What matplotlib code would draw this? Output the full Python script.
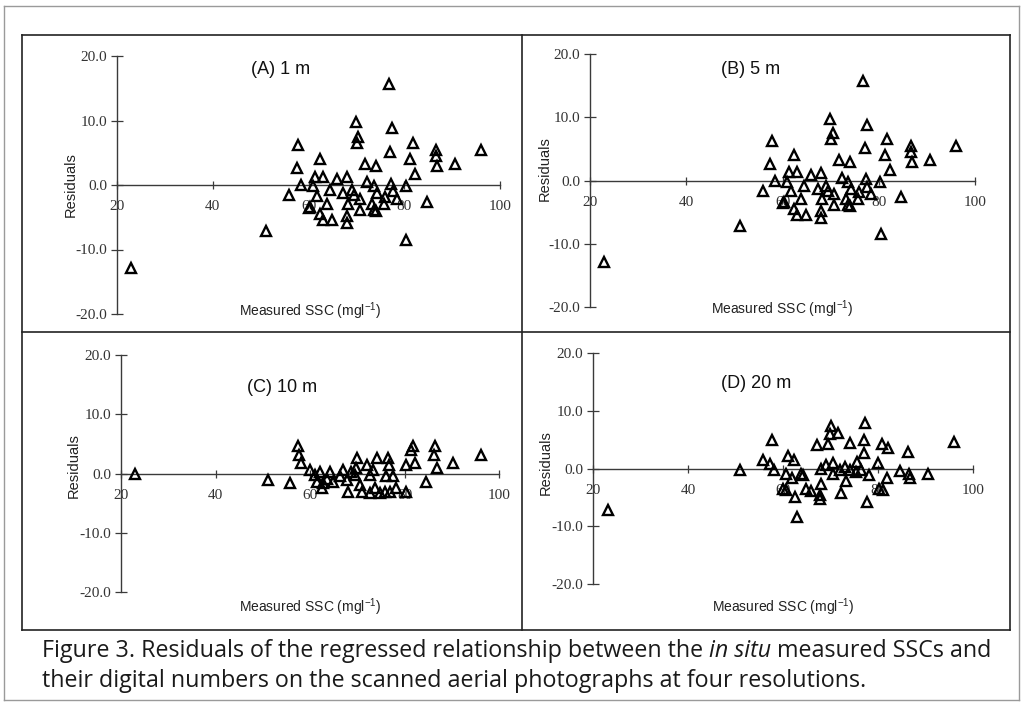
import matplotlib
matplotlib.use("Agg")
import matplotlib.pyplot as plt
from matplotlib.lines import Line2D

# ---------------- data ----------------
x_ticks = [20, 40, 60, 80, 100]
x_ticklabels = ["20", "40", "60", "80", "100"]
y_ticks = [20, 10, 0, -10, -20]
y_ticklabels = ["20.0", "10.0", "0.0", "-10.0", "-20.0"]

panel_titles = ["(A) 1 m", "(B) 5 m", "(C) 10 m", "(D) 20 m"]

ssc_A = [76.8, 69.9, 77.5, 70.4, 70.1, 57.8, 81.8, 86.7, 96.1, 77.1,
         62.4, 81.2, 86.6, 86.9, 90.6, 71.8, 74.0, 57.5, 82.3, 61.4,
         63.1, 65.9, 68.1, 58.4, 60.9, 72.3, 73.7, 77.3, 80.3, 56.0,
         64.4, 69.1, 61.7, 67.3, 69.4, 70.8, 74.3, 77.6, 78.4, 75.9,
         84.7, 60.3, 63.8, 68.3, 70.8, 73.2, 73.6, 75.7, 74.1, 62.4,
         63.1, 64.9, 68.0, 68.0, 51.1, 80.4, 60.1, 22.9]
res_A = [15.7, 9.7, 8.8, 7.5, 6.5, 6.2, 6.5, 5.4, 5.5, 5.1,
         4.1, 4.1, 4.5, 2.9, 3.3, 3.2, 2.9, 2.6, 1.7, 1.3,
         1.3, 0.9, 1.2, 0.0, -0.2, 0.4, -0.2, 0.2, -0.2, -1.6,
         -0.8, -0.8, -1.7, -1.3, -1.6, -2.1, -1.3, -1.0, -2.1, -1.8,
         -2.6, -3.4, -3.0, -3.0, -3.9, -3.0, -3.9, -3.0, -4.0, -4.5,
         -5.5, -5.5, -4.8, -5.9, -7.2, -8.5, -3.5, -12.9]

ssc_B = [76.8, 69.9, 77.5, 70.4, 70.1, 57.8, 81.8, 86.7, 96.1, 77.1,
         62.4, 81.2, 86.6, 86.9, 90.6, 71.8, 74.0, 57.5, 82.3, 61.4,
         63.1, 65.9, 68.1, 58.4, 60.9, 72.3, 73.7, 77.3, 80.3, 56.0,
         64.4, 69.1, 61.7, 67.3, 69.4, 70.8, 74.3, 77.6, 78.4, 75.9,
         84.7, 60.3, 63.8, 68.3, 70.8, 73.2, 73.6, 75.7, 74.1, 62.4,
         63.1, 64.9, 68.0, 68.0, 51.1, 80.4, 60.1, 22.9]
res_B = [15.7, 9.7, 8.8, 7.5, 6.5, 6.2, 6.5, 5.4, 5.5, 5.1,
         4.1, 4.1, 4.5, 2.9, 3.3, 3.2, 2.9, 2.6, 1.7, 1.3,
         1.3, 0.9, 1.2, 0.0, -0.2, 0.4, -0.2, 0.2, -0.2, -1.6,
         -0.8, -0.8, -1.7, -1.3, -1.6, -2.1, -1.3, -1.0, -2.1, -1.8,
         -2.6, -3.4, -3.0, -3.0, -3.9, -3.0, -3.9, -3.0, -4.0, -4.5,
         -5.5, -5.5, -4.8, -5.9, -7.2, -8.5, -3.5, -12.9]

ssc_C = [57.5, 57.7, 58.0, 55.8, 60.0, 61.1, 62.1, 64.2, 61.4, 62.8,
         62.5, 64.9, 67.0, 67.8, 68.1, 69.9, 69.7, 69.5, 70.6, 70.9,
         72.1, 72.7, 74.1, 73.3, 73.8, 72.7, 74.8, 76.6, 76.8, 76.1,
         77.6, 75.9, 76.9, 78.3, 80.3, 80.3, 82.2, 81.9, 81.3, 86.5,
         86.3, 86.8, 84.5, 90.3, 96.1, 66.4, 68.6, 63.5, 51.2, 23.0]
res_C = [4.6, 3.2, 1.7, -1.6, 0.6, -0.2, 0.3, 0.3, -1.4, -1.6,
         -2.5, -1.4, 0.6, -1.1, -3.1, 2.6, 0.9, -0.2, -1.9, -3.1,
         1.5, -0.2, 2.6, 0.6, -2.5, -3.3, -3.3, 2.6, 1.5, -0.5,
         -0.5, -3.1, -3.1, -2.5, -3.1, 1.5, 1.7, 4.7, 4.0, 4.6,
         3.2, 0.9, -1.4, 1.7, 3.2, -0.5, 0.3, -0.9, -1.1, -0.1]

ssc_D = [50.9, 55.7, 57.6, 57.2, 58.0, 61.1, 62.3, 60.7, 61.8, 63.7,
         60.0, 60.7, 62.5, 63.0, 64.8, 65.8, 67.2, 68.1, 68.1, 67.7,
         67.7, 69.5, 69.8, 70.2, 71.6, 70.5, 70.5, 69.0, 72.3, 74.0,
         73.2, 73.0, 75.5, 75.3, 77.0, 77.3, 77.0, 76.5, 78.1, 77.7,
         80.0, 80.9, 82.1, 81.8, 80.2, 81.1, 84.6, 86.5, 86.7, 86.3,
         90.5, 96.1, 71.9, 74.0, 64.2, 23.2]
res_D = [-0.2, 1.4, 5.0, 0.7, -0.3, 2.1, 1.4, -0.9, -1.7, -0.9,
         -3.5, -3.8, -5.0, -8.4, -3.5, -3.9, 4.0, 0.0, -2.6, -4.6,
         -5.2, 4.3, 6.0, 7.3, 6.1, 0.9, -0.9, 0.6, -4.2, 4.4,
         -2.1, 0.2, 1.2, -0.6, 4.9, 7.8, 2.6, -0.3, -1.2, -5.8,
         1.0, 4.3, 3.5, -1.7, -3.5, -3.8, -0.4, -0.9, -1.7, 2.8,
         -1.0, 4.6, -0.3, -0.3, -1.1, -7.1]

caption_parts_1 = [("Figure 3. Residuals of the regressed relationship between the ", "normal"),
                   ("in situ", "italic"),
                   (" measured SSCs and", "normal")]
caption_line_2 = "their digital numbers on the scanned aerial photographs at four resolutions."

# ---------------- layout ----------------
W, H = 1023, 706
fig = plt.figure(figsize=(W / 100, H / 100), dpi=100)
fig.patch.set_facecolor("white")

SERIF = ["Liberation Serif", "DejaVu Serif"]
SANS = ["Liberation Sans", "DejaVu Sans"]
plt.rcParams["mathtext.fontset"] = "custom"
plt.rcParams["mathtext.rm"] = "Liberation Sans"
plt.rcParams["mathtext.it"] = "Liberation Sans:italic"


def fx(x):
    return x / W


def fy(y):
    return 1 - y / H


def px_rect(x0, x1, ytop, ybot):
    return [x0 / W, 1 - ybot / H, (x1 - x0) / W, (ybot - ytop) / H]


AX_COLOR = "#3a3a3a"

panels = [
    dict(x=ssc_A, y=res_A, rect=(117, 500, 56, 314), title=(251, 70),
         ylab=(71, 185), xlab=(310, 311)),
    dict(x=ssc_B, y=res_B, rect=(590, 975, 54, 307), title=(721, 70),
         ylab=(545, 169), xlab=(782, 309)),
    dict(x=ssc_C, y=res_C, rect=(121, 499, 355, 592), title=(247, 387),
         ylab=(74, 466), xlab=(310, 607)),
    dict(x=ssc_D, y=res_D, rect=(593, 973, 353, 584), title=(721, 383),
         ylab=(546, 463), xlab=(783, 607)),
]

for p, title in zip(panels, panel_titles):
    ax = fig.add_axes(px_rect(*p["rect"]))
    ax.set_xlim(20, 100)
    ax.set_ylim(-20, 20)
    ax.patch.set_alpha(0)
    for s in ["top", "right"]:
        ax.spines[s].set_visible(False)
    ax.spines["bottom"].set_position(("data", 0))
    ax.spines["left"].set_position(("data", 20))
    for s in ["bottom", "left"]:
        ax.spines[s].set_color(AX_COLOR)
        ax.spines[s].set_linewidth(1.0)
    ax.set_xticks(x_ticks)
    ax.set_xticklabels(x_ticklabels, fontfamily=SERIF, fontsize=11, color="#333")
    ax.set_yticks(y_ticks)
    ax.set_yticklabels(y_ticklabels, fontfamily=SERIF, fontsize=11, color="#333")
    ax.tick_params(axis="x", direction="inout", length=6, width=0.9, color=AX_COLOR, pad=8)
    ax.tick_params(axis="y", direction="inout", length=8, width=0.9, color=AX_COLOR, pad=3)
    ax.plot(p["x"], p["y"], linestyle="none", marker="^", markersize=7.8,
            markerfacecolor="none", markeredgecolor="black", markeredgewidth=1.7,
            clip_on=False, zorder=3)

    fig.text(fx(p["title"][0]), fy(p["title"][1]), title, fontfamily=SANS,
             fontsize=13, ha="left", va="center", color="#111")
    fig.text(fx(p["ylab"][0]), fy(p["ylab"][1]), "Residuals", fontfamily=SANS,
             fontsize=10.5, rotation=90, ha="center", va="center", color="#222")
    fig.text(fx(p["xlab"][0]), fy(p["xlab"][1]), "Measured SSC (mgl$^{-1}$)",
             fontfamily=SANS, fontsize=10, ha="center", va="center", color="#222")

# frame lines of the figure box
FRAME = "#222222"


def hline(y, x0, x1, lw=1.2, c=FRAME):
    fig.add_artist(Line2D([fx(x0), fx(x1)], [fy(y), fy(y)], color=c, lw=lw))


def vline(x, y0, y1, lw=1.2, c=FRAME):
    fig.add_artist(Line2D([fx(x), fx(x)], [fy(y0), fy(y1)], color=c, lw=lw))


hline(35, 22, 1010)
hline(332, 22, 1010)
hline(630, 22, 1010)
vline(22, 35, 630)
vline(522, 35, 630)
vline(1010, 35, 630)
# outer light border
hline(6, 4, 1019, lw=1.0, c="#9a9a9a")
hline(700, 4, 1019, lw=1.0, c="#9a9a9a")
vline(4, 6, 700, lw=1.0, c="#9a9a9a")
vline(1019, 6, 700, lw=1.0, c="#9a9a9a")

# caption, sized so that the first line spans the same width as in the reference
CAP_FONT = ["Open Sans", "DejaVu Sans"]
renderer = fig.canvas.get_renderer()
CAP_LEFT, CAP_RIGHT = 42, 990


def place_line(parts, x_left, y_center, size):
    x = x_left
    texts = []
    for s, style in parts:
        t = fig.text(fx(x), fy(y_center), s, fontfamily=CAP_FONT, fontsize=size,
                     style=style, ha="left", va="center", color="#1a1a1a")
        bb = t.get_window_extent(renderer=renderer)
        x += bb.width
        texts.append(t)
    return texts, x


trial, xend = place_line(caption_parts_1, CAP_LEFT, 651, 13.0)
for t in trial:
    t.remove()
cap_size = 13.0 * (CAP_RIGHT - CAP_LEFT) / (xend - CAP_LEFT)
place_line(caption_parts_1, CAP_LEFT, 651, cap_size)
place_line([(caption_line_2, "normal")], CAP_LEFT, 681, cap_size)

fig.savefig("out.png", dpi=100, facecolor="white")
print("caption size", cap_size)
